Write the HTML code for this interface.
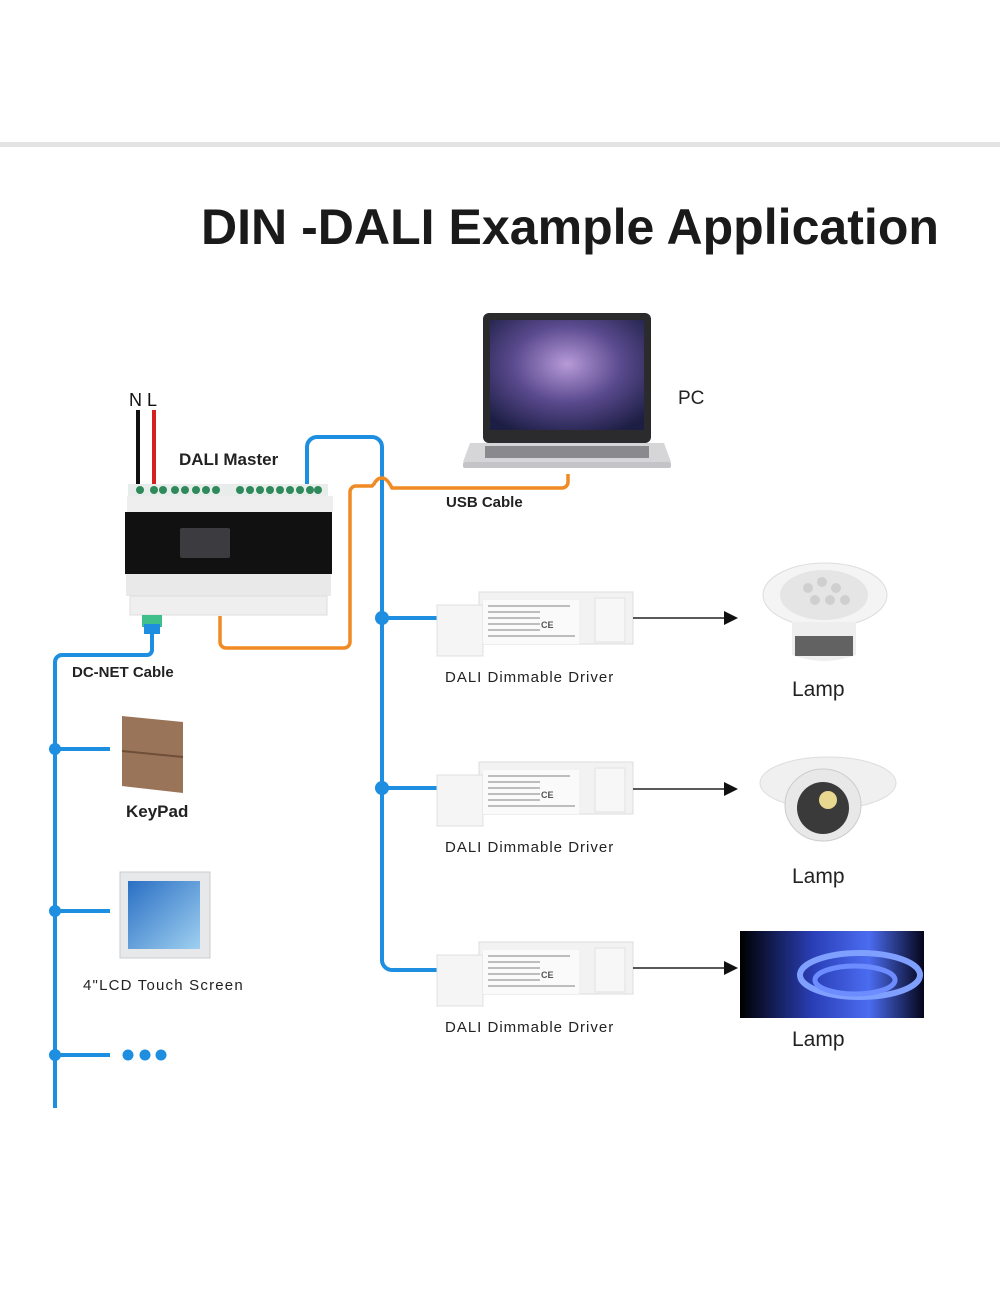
<!DOCTYPE html>
<html><head><meta charset="utf-8"><style>
html,body{margin:0;padding:0;background:#fff;}
svg{display:block}
text{font-family:"Liberation Sans",sans-serif;}
</style></head><body>
<svg width="1000" height="1300" viewBox="0 0 1000 1300" xmlns="http://www.w3.org/2000/svg">
<rect x="0" y="142" width="1000" height="5" fill="#e3e3e3"/>
<text x="570" y="244" font-size="50" font-weight="bold" text-anchor="middle" fill="#1a1a1a" textLength="738" lengthAdjust="spacingAndGlyphs">DIN -DALI Example Application</text>

<!-- laptop -->
<rect x="483" y="313" width="168" height="130" rx="6" fill="#2b2b2e"/>
<defs><radialGradient id="sc" cx="0.5" cy="0.4" r="0.7"><stop offset="0" stop-color="#b79ad8"/><stop offset="0.5" stop-color="#5a4a8e"/><stop offset="1" stop-color="#1c1e44"/></radialGradient>
<linearGradient id="ls" x1="0" y1="0" x2="1" y2="1"><stop offset="0" stop-color="#2a6fc4"/><stop offset="1" stop-color="#9fd0f0"/></linearGradient>
<linearGradient id="st" x1="0" y1="0" x2="1" y2="0"><stop offset="0" stop-color="#000"/><stop offset="0.4" stop-color="#2a3fb8"/><stop offset="0.7" stop-color="#4b6cf0"/><stop offset="1" stop-color="#05051a"/></linearGradient></defs>
<rect x="490" y="320" width="154" height="110" fill="url(#sc)"/>
<polygon points="470,443 664,443 671,462 463,462" fill="#d6d6d8"/>
<rect x="485" y="446" width="164" height="12" fill="#8a8a8e"/>
<rect x="463" y="462" width="208" height="6" rx="2" fill="#c4c4c6"/>
<text x="678" y="404" font-size="19" fill="#222">PC</text>

<!-- power wires -->
<text x="129" y="406" font-size="18" fill="#111">N L</text>
<line x1="138" y1="410" x2="138" y2="486" stroke="#111" stroke-width="4"/>
<line x1="154" y1="410" x2="154" y2="486" stroke="#d62020" stroke-width="4"/>
<text x="179" y="465" font-size="17" font-weight="bold" fill="#222">DALI Master</text>

<!-- blue DALI bus -->
<path d="M307,486 V447 a10,10 0 0 1 10,-10 H372 a10,10 0 0 1 10,10 V960 a10,10 0 0 0 10,10 H437" fill="none" stroke="#1e8fe0" stroke-width="4"/>
<line x1="382" y1="618" x2="437" y2="618" stroke="#1e8fe0" stroke-width="4"/>
<line x1="382" y1="788" x2="437" y2="788" stroke="#1e8fe0" stroke-width="4"/>
<circle cx="382" cy="618" r="7" fill="#1e8fe0"/>
<circle cx="382" cy="788" r="7" fill="#1e8fe0"/>

<!-- orange USB -->
<path d="M568,474 V482 a6,6 0 0 1 -6,6 H392 q-5,-10 -10,-10 q-5,0 -8,6 l-2,2 H356 a6,6 0 0 0 -6,6 V642 a6,6 0 0 1 -6,6 H226 a6,6 0 0 1 -6,-6 V616" fill="none" stroke="#f08a24" stroke-width="3.5"/>
<text x="446" y="507" font-size="15" font-weight="bold" fill="#222">USB Cable</text>

<!-- DALI master device -->
<rect x="128" y="484" width="200" height="12" fill="#e8ecea"/>
<g fill="#2e8a5a">
<circle cx="140" cy="490" r="4"/><circle cx="154" cy="490" r="4"/><circle cx="163" cy="490" r="4"/><circle cx="175" cy="490" r="4"/><circle cx="185" cy="490" r="4"/><circle cx="196" cy="490" r="4"/><circle cx="206" cy="490" r="4"/><circle cx="216" cy="490" r="4"/>
<circle cx="240" cy="490" r="4"/><circle cx="250" cy="490" r="4"/><circle cx="260" cy="490" r="4"/><circle cx="270" cy="490" r="4"/><circle cx="280" cy="490" r="4"/><circle cx="290" cy="490" r="4"/><circle cx="300" cy="490" r="4"/><circle cx="310" cy="490" r="4"/><circle cx="318" cy="490" r="4"/>
</g>
<rect x="127" y="496" width="206" height="16" fill="#eeeeee"/>
<rect x="125" y="512" width="207" height="62" fill="#111"/>
<rect x="180" y="528" width="50" height="30" rx="2" fill="#3c3c40"/>
<rect x="126" y="574" width="205" height="22" fill="#e9e9e9"/>
<rect x="130" y="596" width="197" height="19" fill="#efefef" stroke="#ddd"/>
<rect x="142" y="615" width="20" height="12" fill="#3fbf8a"/>
<rect x="144" y="624" width="16" height="10" fill="#1e8fe0"/>

<!-- DC-NET -->
<path d="M152,634 V650 a5,5 0 0 1 -5,5 H62 a7,7 0 0 0 -7,7 V1108" fill="none" stroke="#1e8fe0" stroke-width="4"/>
<text x="72" y="677" font-size="15" font-weight="bold" fill="#222">DC-NET Cable</text>
<g stroke="#1e8fe0" stroke-width="4"><line x1="55" y1="749" x2="110" y2="749"/><line x1="55" y1="911" x2="110" y2="911"/><line x1="55" y1="1055" x2="110" y2="1055"/></g>
<g fill="#1e8fe0"><circle cx="55" cy="749" r="6"/><circle cx="55" cy="911" r="6"/><circle cx="55" cy="1055" r="6"/>
<circle cx="128" cy="1055" r="5.5"/><circle cx="145" cy="1055" r="5.5"/><circle cx="161" cy="1055" r="5.5"/></g>

<!-- keypad -->
<polygon points="122,716 183,722 183,793 122,786" fill="#9a7458"/>
<line x1="122" y1="751" x2="183" y2="757" stroke="#6d4e38" stroke-width="2"/>
<text x="126" y="817" font-size="17" font-weight="bold" fill="#222">KeyPad</text>

<!-- touch screen -->
<rect x="120" y="872" width="90" height="86" fill="#e6e8ea" stroke="#ccc"/>
<rect x="128" y="881" width="72" height="68" fill="url(#ls)"/>
<text x="83" y="990" font-size="15" fill="#222" letter-spacing="1.2">4"LCD  Touch  Screen</text>

<!-- drivers -->
<g id="drv">
<rect x="479" y="592" width="154" height="52" fill="#f2f2f2" stroke="#ddd"/>
<rect x="437" y="605" width="46" height="51" fill="#f5f5f5" stroke="#e0e0e0"/>
<rect x="483" y="600" width="96" height="44" fill="#fafafa"/>
<g stroke="#999" stroke-width="1.2"><line x1="488" y1="606" x2="570" y2="606"/><line x1="488" y1="612" x2="540" y2="612"/><line x1="488" y1="618" x2="540" y2="618"/><line x1="488" y1="624" x2="540" y2="624"/><line x1="488" y1="630" x2="540" y2="630"/><line x1="488" y1="636" x2="575" y2="636"/></g>
<text x="541" y="628" font-size="9" font-weight="bold" fill="#555">CE</text>
<rect x="595" y="598" width="30" height="44" fill="#f7f7f7" stroke="#e2e2e2"/>
</g>
<use href="#drv" y="170"/>
<use href="#drv" y="350"/>
<text x="445" y="682" font-size="15" fill="#222" letter-spacing="1">DALI Dimmable  Driver</text>
<text x="445" y="852" font-size="15" fill="#222" letter-spacing="1">DALI Dimmable Driver</text>
<text x="445" y="1032" font-size="15" fill="#222" letter-spacing="1">DALI Dimmable Driver</text>

<!-- arrows -->
<g stroke="#222" stroke-width="1.6"><line x1="633" y1="618" x2="726" y2="618"/><line x1="633" y1="789" x2="726" y2="789"/><line x1="633" y1="968" x2="726" y2="968"/></g>
<g fill="#111"><polygon points="738,618 724,611 724,625"/><polygon points="738,789 724,782 724,796"/><polygon points="738,968 724,961 724,975"/></g>

<!-- lamp 1 -->
<ellipse cx="825" cy="595" rx="62" ry="32" fill="#f4f4f4" stroke="#ddd"/>
<ellipse cx="824" cy="595" rx="44" ry="25" fill="#e5e5e5"/>
<path d="M792,622 V655 q32,12 64,0 V622 Z" fill="#eeeeee"/>
<rect x="795" y="636" width="58" height="20" fill="#333" opacity="0.75"/>
<g fill="#cfcfcf"><circle cx="808" cy="588" r="5"/><circle cx="822" cy="582" r="5"/><circle cx="836" cy="588" r="5"/><circle cx="815" cy="600" r="5"/><circle cx="830" cy="600" r="5"/><circle cx="845" cy="600" r="5"/></g>
<text x="792" y="696" font-size="21" fill="#222">Lamp</text>

<!-- lamp 2 -->
<ellipse cx="828" cy="783" rx="68" ry="26" fill="#f0f0f0" stroke="#ddd"/>
<ellipse cx="823" cy="805" rx="38" ry="36" fill="#e8e8e8" stroke="#ccc"/>
<ellipse cx="823" cy="808" rx="26" ry="26" fill="#3a3a3a"/>
<circle cx="828" cy="800" r="9" fill="#e8d890"/>
<text x="792" y="883" font-size="21" fill="#222">Lamp</text>

<!-- lamp 3 -->
<rect x="740" y="931" width="184" height="87" fill="url(#st)"/>
<ellipse cx="860" cy="975" rx="60" ry="22" fill="none" stroke="#7fa0ff" stroke-width="6"/>
<ellipse cx="855" cy="980" rx="40" ry="14" fill="none" stroke="#6d8cff" stroke-width="5"/>
<text x="792" y="1046" font-size="21" fill="#222">Lamp</text>
</svg>
</body></html>
